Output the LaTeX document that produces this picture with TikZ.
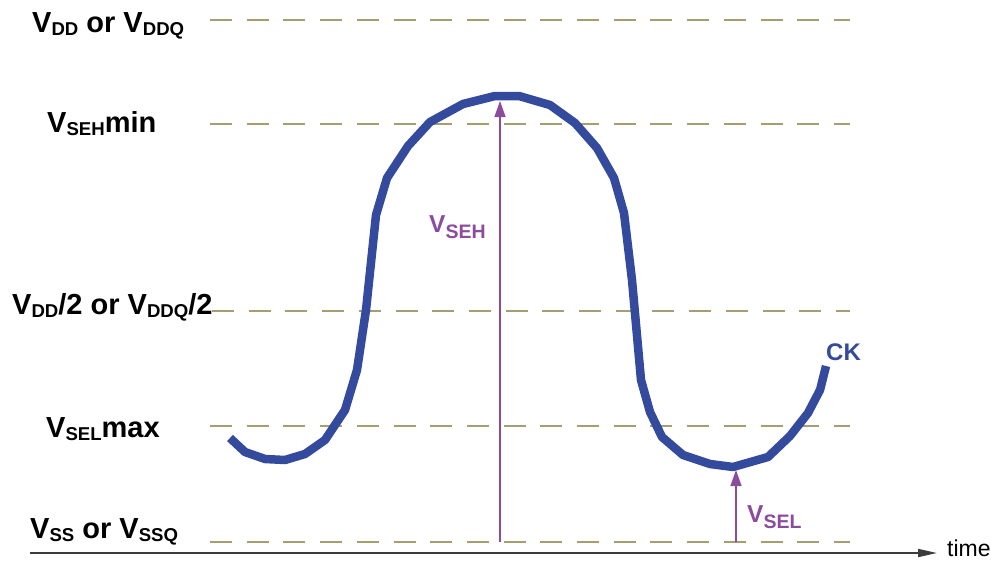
\documentclass[tikz,border=0pt]{standalone}
\usepackage{fontspec}
\setmainfont{Liberation Sans}
\usetikzlibrary{arrows.meta}
\definecolor{ckblue}{RGB}{52,74,156}
\definecolor{selpurple}{RGB}{140,76,158}
\definecolor{levelolive}{RGB}{165,158,112}
\definecolor{axisgray}{RGB}{60,60,60}
\newcommand{\lo}[1]{\raisebox{-3pt}{\fontsize{18.6}{18.6}\selectfont #1}}
\newcommand{\los}[1]{\raisebox{-6pt}{\fontsize{19.5}{19.5}\selectfont #1}}

\begin{document}
\begin{tikzpicture}[x=1pt,y=-1pt,>=Latex,
    level/.style={levelolive,line width=1.2pt,dash pattern=on 22pt off 14.7pt},
    lvl/.style={anchor=base west,inner sep=0pt,font=\fontsize{29}{29}\selectfont\bfseries},
    swing/.style={selpurple,line width=1.5pt,-{Triangle[length=16pt,width=11pt]}},
    swinglbl/.style={selpurple,anchor=base west,inner sep=0pt,font=\fontsize{24.5}{24.5}\selectfont\bfseries}]
  \useasboundingbox (0,0) rectangle (991,565);
  % level lines
  \foreach \y/\xs in {20/210,124/210,311/212,426/210,542/210}
    \draw[level] (\xs,\y) -- (850,\y);
  % level names
  \node[lvl] (vdd)  at (32,32)  {V\lo{DD} or V\lo{DDQ}};
  \node[lvl] (vseh) at (47,132) {V\lo{SEH}min};
  \node[lvl] (vref) at (12,314) {V\lo{DD}/2 or V\lo{DDQ}/2};
  \node[lvl] (vsel) at (46,437) {V\lo{SEL}max};
  \node[lvl] (vss)  at (30,538) {V\lo{SS} or V\lo{SSQ}};
  % time axis
  \coordinate (t0) at (30,553);
  \coordinate (t1) at (937,553);
  \draw[axisgray,line width=1.8pt,-{Triangle[length=19pt,width=8pt]}] (t0) -- (t1);
  \node[anchor=base west,inner sep=0pt,font=\fontsize{23}{23}\selectfont] (time) at (947,556) {time};
  % CK waveform
  \draw[ckblue,line width=8.5pt,line join=round] plot coordinates {
    (230,438) (245,452) (265,459) (285,460) (305,454) (325,440) (345,410)
    (357,370) (366,310) (376,215) (387,178) (408,146) (430,122) (463,104)
    (495,96) (519,96) (550,105) (575,123) (597,148) (614,178) (624,213)
    (632,280) (641,380) (650,412) (662,437) (683,455) (710,464) (733,467)
    (768,457) (790,436) (808,413) (820,390) (826,366)};
  \node[ckblue,anchor=base west,inner sep=0pt,font=\fontsize{24}{24}\selectfont\bfseries] (ck) at (826,360) {CK};
  % swings
  \coordinate (hbase) at (500,542);
  \coordinate (htop)  at (500,101);
  \coordinate (lbase) at (736,542);
  \coordinate (ltop)  at (736,470);
  \draw[swing] (hbase) -- (htop);
  \draw[swing] (lbase) -- (ltop);
  \node[swinglbl] (seh) at (429,232) {V\los{SEH}};
  \node[swinglbl] (sel) at (747,522) {V\los{SEL}};
\end{tikzpicture}
\end{document}
